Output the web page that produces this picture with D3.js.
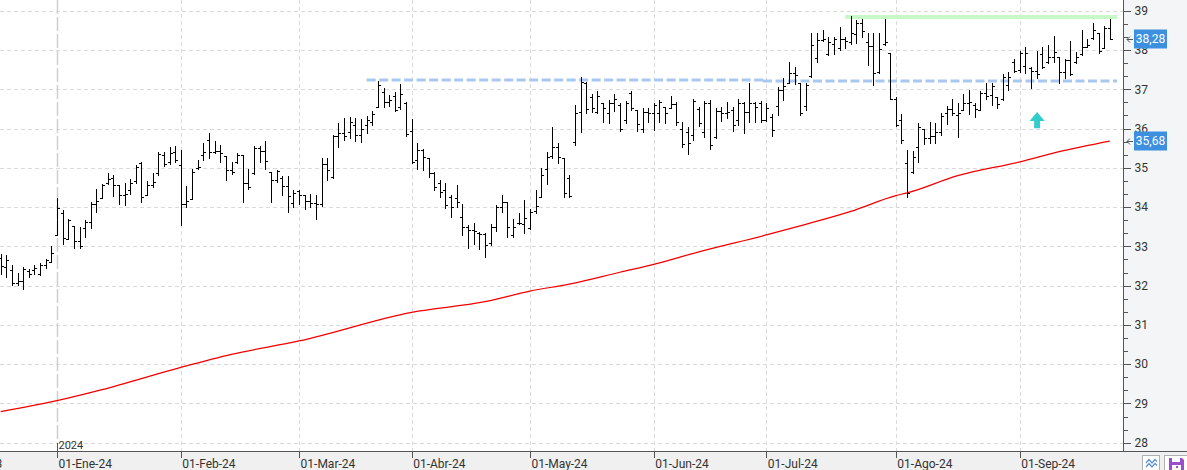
<!DOCTYPE html>
<html><head><meta charset="utf-8">
<script src="https://cdn.jsdelivr.net/npm/d3@7/dist/d3.min.js"></script>
<style>
body{margin:0;background:#fff;overflow:hidden}
svg{display:block;font-family:Roboto,"Segoe UI",Arial,sans-serif}
</style>
</head><body>
<svg id="c" width="1187" height="470"></svg>
<script>
// ---- DATA (daily OHLC, 198 sessions, Dec-23 .. Sep-24) ----
const openP=[32.70,32.47,32.40,32.06,32.12,32.38,32.40,32.29,32.53,32.60,
33.30,33.86,33.18,33.52,33.13,33.47,33.62,34.08,34.24,34.61,
34.73,34.56,34.30,34.43,34.66,35.11,34.30,34.56,34.86,35.32,
35.15,35.41,35.07,34.07,34.20,35.00,35.32,35.70,35.41,35.43,
35.30,34.94,35.15,35.33,34.60,34.87,35.51,35.43,34.90,34.69,
34.73,34.53,34.10,34.40,34.30,34.16,34.11,34.09,35.09,34.77,
35.80,35.88,35.92,36.08,35.83,36.10,36.17,36.55,36.94,36.68,
36.83,36.54,36.64,35.94,35.20,35.45,35.26,34.86,34.62,34.43,
34.25,34.22,33.75,33.50,33.41,33.35,33.31,33.09,33.48,34.00,
34.13,33.30,33.60,33.58,33.46,33.90,34.26,34.98,35.30,35.52,
35.26,34.75,35.66,36.41,37.16,36.79,36.43,36.64,36.40,36.66,
36.60,36.22,36.91,36.47,36.00,36.43,36.39,36.40,36.54,36.51,
36.62,36.00,35.90,35.84,36.49,35.90,36.64,35.79,36.45,36.39,
36.47,36.22,36.66,36.43,36.66,36.64,36.22,36.30,36.57,36.98,
37.15,37.42,37.15,36.57,37.33,37.80,38.25,37.90,38.15,38.05,
38.27,38.20,38.40,38.69,38.21,38.10,37.45,38.15,37.93,36.76,
36.22,35.13,34.90,35.53,36.00,35.77,35.81,35.92,36.39,36.49,
36.35,36.47,36.64,36.60,36.47,36.90,36.85,36.81,36.75,37.10,
37.70,37.50,37.60,37.55,37.47,37.90,37.70,37.81,37.81,37.44,
37.74,37.70,37.90,38.07,38.30,38.44,38.05,38.57];
const highP=[32.81,32.77,32.52,32.32,32.47,32.43,32.52,32.57,32.69,33.01,
34.22,33.93,33.69,33.52,33.50,33.67,34.14,34.45,34.58,34.88,
34.81,34.56,34.62,34.71,35.07,35.15,34.67,34.86,35.39,35.39,
35.53,35.56,35.45,34.53,34.96,35.20,35.62,35.88,35.69,35.58,
35.30,35.15,35.38,35.33,34.98,35.56,35.56,35.68,34.90,34.94,
34.79,34.79,34.43,34.43,34.30,34.32,34.30,35.24,35.26,35.83,
36.13,36.28,36.30,36.26,36.23,36.32,36.45,37.22,37.02,36.85,
36.94,37.13,36.68,36.23,35.62,35.49,35.26,34.90,34.70,34.62,
34.30,34.56,34.08,33.54,33.60,33.37,33.35,33.56,34.04,34.30,
34.13,33.69,33.84,34.19,33.96,34.43,35.00,35.41,36.03,35.62,
35.26,34.81,36.60,37.30,37.19,36.89,36.95,36.64,36.73,36.89,
36.66,36.70,36.95,36.47,36.51,36.53,36.64,36.73,36.54,36.83,
36.68,36.17,36.04,36.74,36.55,36.70,36.73,36.51,36.55,36.68,
36.55,36.74,36.68,37.15,36.68,36.71,36.64,36.37,37.06,37.28,
37.69,37.57,37.17,37.17,38.42,38.44,38.52,38.32,38.32,38.58,
38.34,38.86,38.76,38.78,38.42,38.44,38.42,38.80,37.93,36.80,
36.37,35.45,35.43,36.15,36.00,36.17,36.15,36.40,36.57,36.74,
36.64,36.88,36.98,36.64,36.96,37.15,37.17,36.81,37.40,37.45,
37.76,37.98,38.07,37.57,37.98,38.08,38.12,38.35,37.81,37.76,
38.23,37.95,38.51,38.27,38.68,38.44,38.61,38.78];
const lowP=[32.29,32.23,32.01,32.01,31.91,32.23,32.30,32.26,32.46,32.60,
33.30,33.07,33.18,32.95,32.95,33.23,33.47,33.88,34.22,34.58,
34.28,34.09,34.05,34.33,34.62,34.13,34.30,34.52,34.81,35.04,
35.09,35.15,33.54,34.01,34.20,34.98,35.20,35.26,35.37,35.15,
34.70,34.84,35.11,34.13,34.47,34.84,35.15,34.98,34.13,34.64,
34.30,33.88,33.99,34.09,33.94,33.99,33.69,34.03,34.70,34.73,
35.53,35.71,35.75,35.68,35.66,35.89,36.09,36.54,36.55,36.58,
36.45,36.49,35.81,35.11,34.98,34.94,34.77,34.43,34.26,33.97,
33.74,34.01,33.29,32.95,33.07,32.92,32.73,33.03,33.39,33.88,
33.23,33.24,33.57,33.33,33.43,33.86,34.26,34.59,35.26,35.13,
34.25,34.25,35.58,35.92,36.39,36.43,36.40,36.17,36.13,36.45,
35.94,36.13,36.47,35.94,35.92,36.17,35.96,36.17,36.15,36.51,
36.09,35.53,35.35,35.71,36.06,35.78,35.49,35.75,36.20,36.26,
35.94,36.09,35.88,36.17,36.17,36.17,36.20,35.81,36.34,36.73,
37.15,37.13,36.34,36.47,37.30,37.70,38.23,37.87,37.91,38.00,
38.04,38.15,38.17,38.32,37.61,37.11,37.42,38.12,36.74,36.06,
35.62,34.26,34.87,35.15,35.60,35.62,35.62,35.83,36.11,36.34,
35.79,36.47,36.38,36.30,36.47,36.74,36.60,36.51,36.73,36.99,
37.44,37.44,37.42,37.02,37.28,37.53,37.67,37.70,37.15,37.28,
37.36,37.66,37.87,38.07,38.27,37.93,38.04,38.28];
const closeP=[32.50,32.64,32.06,32.12,32.42,32.29,32.44,32.52,32.65,32.84,
33.97,33.21,33.67,33.13,33.02,33.62,34.08,34.15,34.56,34.71,
34.56,34.30,34.33,34.62,35.03,34.26,34.56,34.64,35.34,35.09,
35.37,35.20,34.07,34.15,34.90,35.03,35.41,35.41,35.43,35.37,
34.94,34.90,35.32,34.60,34.52,35.51,35.43,35.17,34.69,34.92,
34.53,34.28,34.35,34.30,34.16,34.11,34.08,35.09,34.94,35.80,
35.88,35.81,36.17,35.83,36.00,36.22,36.36,37.11,36.68,36.73,
36.47,36.88,35.85,35.15,35.45,35.28,34.86,34.52,34.39,34.05,
34.01,34.13,33.50,33.41,33.39,33.31,33.03,33.50,34.00,34.13,
33.50,33.50,33.60,33.71,33.88,34.03,34.81,35.28,35.52,35.28,
34.37,34.28,36.39,37.19,36.49,36.51,36.83,36.53,36.66,36.74,
36.00,36.66,36.51,36.11,36.43,36.39,36.60,36.68,36.39,36.62,
36.17,35.60,35.62,36.70,36.15,36.64,35.58,36.45,36.39,36.43,
36.09,36.66,36.43,36.66,36.55,36.22,36.51,35.95,36.98,37.07,
37.42,37.36,36.40,37.10,38.12,38.25,38.27,38.21,38.27,38.27,
38.23,38.44,38.69,38.49,38.10,37.42,38.02,38.21,36.76,36.09,
35.72,34.35,35.28,36.05,35.77,35.81,35.92,36.32,36.49,36.39,
36.40,36.64,36.68,36.49,36.90,36.83,37.08,36.62,37.30,37.30,
37.47,37.93,37.93,37.47,37.40,37.57,37.81,37.96,37.44,37.74,
37.40,37.81,38.07,38.12,38.52,37.98,38.57,38.28];

// moving average (red), read at these session indices
const maIdx=[0,10,18,32,41,53,73,86,94,101,110,116,124,136,143,151,159,161,170,181,188,197];
const maVal=[28.79,29.07,29.35,29.92,30.25,30.59,31.32,31.59,31.86,32.04,32.34,32.54,32.86,33.29,33.56,33.89,34.29,34.36,34.80,35.15,35.41,35.68];

// month labels of the time axis and the session index they fall on
const monthLabels=["01-Dic-23","01-Ene-24","01-Feb-24","01-Mar-24","01-Abr-24","01-May-24","01-Jun-24","01-Jul-24","01-Ago-24","01-Sep-24"];
const monthIdx=[-9,10,32,53,73,94,116,136,159,181];
const yearLabel="2024", yearIdx=10;

const yTicks=[28,29,30,31,32,33,34,35,36,37,38,39];
const lastClose=38.28, lastMA=35.68;

// drawn support / resistance lines (session index range and price)
const supportFrom=[65,135.4], supportTo=[135.4,198.3], supportVal=[37.23,37.20];
const topFrom=150, topTo=198.3, topVal=38.84;
const signalIdx=184, signalTop=36.42, signalBottom=36.01;

// ---- DRAW ----
const W=1187,H=470, axisX=1123.5, axisY=451.5;
const svg=d3.select("#c");
const x=d3.scaleLinear().domain([0,197]).range([0.7,1109.8]);
const y=d3.scaleLinear().domain([28,39]).range([442.7,10.7]);
const px=v=>Math.round(v)+0.5;

svg.append("rect").attr("x",0).attr("y",0).attr("width",W).attr("height",H).attr("fill","#fff");
svg.append("rect").attr("x",axisX).attr("y",0).attr("width",W-axisX).attr("height",axisY).attr("fill","#f4f5f7");
svg.append("rect").attr("x",0).attr("y",axisY).attr("width",W).attr("height",H-axisY).attr("fill","#f0f0f0");

svg.append("clipPath").attr("id","plot").append("rect").attr("x",0).attr("y",0).attr("width",axisX).attr("height",axisY);
const g=svg.append("g").attr("clip-path","url(#plot)");

// grid
g.selectAll(".hg").data(yTicks).join("line")
 .attr("x1",0).attr("x2",axisX).attr("y1",d=>px(y(d))).attr("y2",d=>px(y(d)))
 .attr("stroke","#dadada").attr("stroke-dasharray","4,3").attr("shape-rendering","crispEdges");
g.selectAll(".vg").data(monthIdx.filter(d=>d!==yearIdx)).join("line")
 .attr("x1",d=>px(x(d))).attr("x2",d=>px(x(d))).attr("y1",0).attr("y2",axisY)
 .attr("stroke","#dadada").attr("stroke-dasharray","4,3").attr("shape-rendering","crispEdges");
g.append("line").attr("x1",px(x(yearIdx))).attr("x2",px(x(yearIdx))).attr("y1",0).attr("y2",axisY-9)
 .attr("stroke","#cfcfcf").attr("stroke-width",1.5).attr("stroke-dasharray","14,3");

// moving average
const ma=d3.line().x((d,i)=>x(maIdx[i])).y(d=>y(d)).curve(d3.curveMonotoneX);
g.append("path").attr("d",ma(maVal)).attr("fill","none").attr("stroke","#f00000").attr("stroke-width",1.25);

// support lines (blue dashed)
g.selectAll(".sup").data(supportVal).join("line")
 .attr("x1",(d,i)=>x(supportFrom[i])).attr("x2",(d,i)=>x(supportTo[i]))
 .attr("y1",d=>Math.round(y(d))).attr("y2",d=>Math.round(y(d)))
 .attr("stroke","#a9c8ef").attr("stroke-width",3).attr("stroke-dasharray","9,3.5");
// top line (green)
g.append("line").attr("x1",x(topFrom)).attr("x2",x(topTo)).attr("y1",y(topVal)).attr("y2",y(topVal))
 .attr("stroke","#c8f8c8").attr("stroke-width",4);

// OHLC bars
const bars=g.append("g").attr("stroke","#000").attr("stroke-width",1).attr("shape-rendering","crispEdges");
closeP.forEach((c,i)=>{
  const xb=px(x(i));
  bars.append("line").attr("x1",xb).attr("x2",xb).attr("y1",Math.round(y(highP[i]))).attr("y2",Math.round(y(lowP[i]))+1);
  const yo=px(y(openP[i])), yc=px(y(c));
  bars.append("line").attr("x1",xb-2.5).attr("x2",xb).attr("y1",yo).attr("y2",yo);
  bars.append("line").attr("x1",xb).attr("x2",xb+2.5).attr("y1",yc).attr("y2",yc);
});

// signal arrow
{
  const cx=x(signalIdx)+0.5, t=y(signalTop), b=y(signalBottom), hh=(b-t)*0.56;
  g.append("path").attr("d",`M${cx},${t} L${cx+7.5},${t+hh} L${cx+3},${t+hh} L${cx+3},${b} L${cx-3},${b} L${cx-3},${t+hh} L${cx-7.5},${t+hh} Z`)
   .attr("fill","#33cccc");
}

// axes lines
svg.append("line").attr("x1",axisX).attr("x2",axisX).attr("y1",0).attr("y2",axisY).attr("stroke","#555");
svg.append("line").attr("x1",0).attr("x2",W).attr("y1",axisY).attr("y2",axisY).attr("stroke","#555");

// right axis ticks
const minor=d3.range(28,39.01,1/3).filter(v=>Math.abs(v-Math.round(v))>0.01);
svg.selectAll(".mt").data(minor).join("line")
 .attr("x1",axisX).attr("x2",axisX+4).attr("y1",d=>px(y(d))).attr("y2",d=>px(y(d)))
 .attr("stroke","#555").attr("shape-rendering","crispEdges");
svg.selectAll(".Mt").data(yTicks).join("line")
 .attr("x1",axisX).attr("x2",axisX+7).attr("y1",d=>px(y(d))).attr("y2",d=>px(y(d)))
 .attr("stroke","#555").attr("shape-rendering","crispEdges");
svg.selectAll(".yl").data(yTicks).join("text")
 .attr("x",1134.5).attr("y",d=>y(d)).attr("dy","0.36em")
 .attr("font-size",12).attr("fill","#333").text(d=>d);

// bottom axis ticks + labels
svg.selectAll(".bt").data(monthIdx).join("line")
 .attr("x1",d=>px(x(d))).attr("x2",d=>px(x(d))).attr("y1",axisY).attr("y2",axisY+6)
 .attr("stroke","#555").attr("shape-rendering","crispEdges");
svg.selectAll(".bl").data(monthLabels).join("text")
 .attr("x",(d,i)=>x(monthIdx[i])+1.5).attr("y",467.5)
 .attr("font-size",12).attr("fill","#333").text(d=>d);
svg.append("line").attr("x1",px(x(yearIdx))).attr("x2",px(x(yearIdx))).attr("y1",axisY-9).attr("y2",axisY)
 .attr("stroke","#555").attr("shape-rendering","crispEdges");
svg.append("text").attr("x",x(yearIdx)+1.5).attr("y",448.5).attr("font-size",11).attr("fill","#333").text(yearLabel);

// last value boxes
[lastClose,lastMA].forEach(v=>{
  const yy=y(v);
  svg.append("rect").attr("x",1134).attr("y",Math.round(yy)-9.5).attr("width",33).attr("height",19).attr("fill","#3d8fe0");
  svg.append("text").attr("x",1150.5).attr("y",yy).attr("dy","0.36em").attr("text-anchor","middle")
   .attr("font-size",12).attr("fill","#fff").text(v.toFixed(2).replace(".",","));
  svg.append("path").attr("d",`M${1127},${px(yy)} H1133 M1130,${px(yy)-3} L1127,${px(yy)} L1130,${px(yy)+3}`)
   .attr("fill","none").attr("stroke","#555");
});

// toolbar icons (bottom right)
svg.append("rect").attr("x",1142.5).attr("y",455.5).attr("width",17).attr("height",16).attr("fill","#fff").attr("stroke","#b0b0b0");
svg.append("path").attr("d","M1146,463 L1149,459.5 L1152,463 L1155,459.5 L1157,461.5 M1146,467 L1149,463.5 L1152,467 L1155,463.5 L1157,465.5")
 .attr("fill","none").attr("stroke","#5b8fd0").attr("stroke-width",1.2);
svg.append("rect").attr("x",1164.5).attr("y",455.5).attr("width",23).attr("height",16).attr("fill","#fff").attr("stroke","#b0b0b0");
svg.append("path").attr("d","M1169,458 H1182 L1184,460 V470 H1169 Z").attr("fill","#9b4fc9");
svg.append("rect").attr("x",1172).attr("y",458).attr("width",8).attr("height",4).attr("fill","#fff");
svg.append("rect").attr("x",1172).attr("y",465).attr("width",9).attr("height",5).attr("fill","#fff");
svg.append("rect").attr("x",1176).attr("y",466).attr("width",2).attr("height",2).attr("fill","#9b4fc9");
</script>
</body></html>
